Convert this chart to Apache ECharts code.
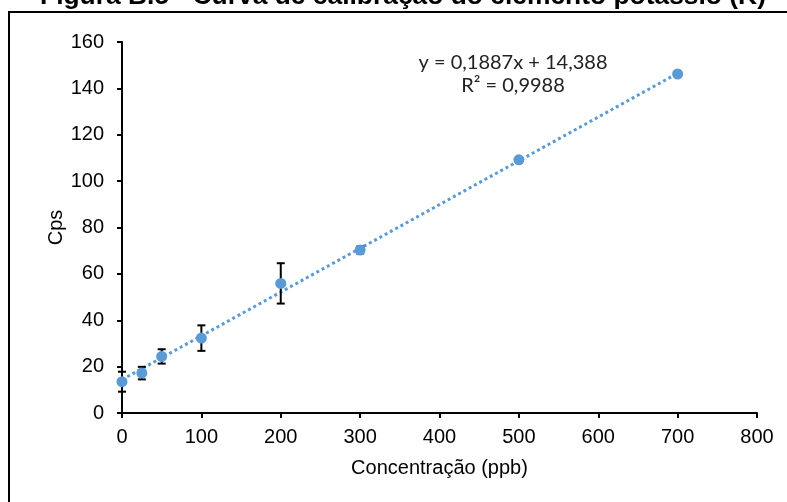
<!DOCTYPE html>
<html>
<head>
<meta charset="utf-8">
<script src="https://cdn.jsdelivr.net/npm/echarts@6/dist/echarts.min.js"></script>
<style>
  html,body{margin:0;padding:0;background:#fff;}
  #chart{width:787px;height:502px;}
</style>
</head>
<body>
<div id="chart"></div>
<script>
  // Curva de calibração - potássio (K)
  const concX = [0, 25, 50, 100, 200, 300, 500, 700];
  const cpsY  = [13.5, 17.2, 24.4, 32.3, 55.9, 70.3, 109.2, 146.2];
  const errY  = [4.3, 2.7, 3.1, 5.5, 8.7, 1.5, 0.8, 0.8];
  const trendX = [0, 700];
  const trendY = [14.4, 146.5];
  const xTicks = [0, 100, 200, 300, 400, 500, 600, 700, 800];
  const yTicks = [0, 20, 40, 60, 80, 100, 120, 140, 160];

  const pts = concX.map((x,i)=>[x, cpsY[i]]);
  const errs = concX.map((x,i)=>[x, cpsY[i]-errY[i], cpsY[i]+errY[i]]);
  const trend = trendX.map((x,i)=>[x, trendY[i]]);

  const chart = echarts.init(document.getElementById('chart'));
  const axisTxt = {color:'#000', fontFamily:'"Liberation Sans", Arial', fontSize:20};

  chart.setOption({
    animation:false,
    grid:{left:122, right:30, top:42, bottom:89},
    xAxis:{
      type:'value', min:xTicks[0], max:xTicks[xTicks.length-1], interval:100,
      name:'Concentração (ppb)', nameLocation:'middle', nameGap:45,
      nameTextStyle:axisTxt,
      axisLine:{lineStyle:{color:'#000', width:2}},
      axisTick:{show:true, length:5, lineStyle:{color:'#000', width:2}},
      axisLabel:Object.assign({margin:14}, axisTxt),
      splitLine:{show:false}
    },
    yAxis:{
      type:'value', min:yTicks[0], max:yTicks[yTicks.length-1], interval:20,
      name:'Cps', nameLocation:'middle', nameGap:56, nameRotate:90,
      nameMoveOverlap:false,
      nameTextStyle:axisTxt,
      axisLine:{show:true, lineStyle:{color:'#000', width:2}},
      axisTick:{show:true, length:5, lineStyle:{color:'#000', width:2}},
      axisLabel:Object.assign({margin:18}, axisTxt),
      splitLine:{show:false}
    },
    graphic:[
      {type:'rect', shape:{x:9, y:12, width:820, height:520},
       style:{fill:null, stroke:'#000', lineWidth:2}, z:-1},
      {type:'text', x:403, y:10,
       style:{text:'Figura B.5 - Curva de calibração do elemento potássio (K)',
              font:'bold 26.4px "Liberation Sans", Arial', fill:'#000',
              align:'center', verticalAlign:'bottom'}},
      {type:'text', x:513, y:63,
       style:{text:'y = 0,1887x + 14,388', font:'20px Lato, "Open Sans"', fill:'#222',
              align:'center', verticalAlign:'middle'}},
      {type:'text', x:513, y:86,
       style:{text:'R² = 0,9988', font:'20px Lato, "Open Sans"', fill:'#222',
              align:'center', verticalAlign:'middle'}}
    ],
    series:[
      {
        type:'line', data:trend, showSymbol:false, silent:true, z:2,
        lineStyle:{color:'#5B9BD5', width:3, type:'dotted'}
      },
      {
        type:'custom', data:errs, z:3,
        renderItem:function(params, api){
          const lo = api.coord([api.value(0), api.value(1)]);
          const hi = api.coord([api.value(0), api.value(2)]);
          const c = 4;
          const st = {stroke:'#000', lineWidth:2};
          return {type:'group', children:[
            {type:'line', shape:{x1:lo[0], y1:lo[1], x2:hi[0], y2:hi[1]}, style:st},
            {type:'line', shape:{x1:lo[0]-c, y1:lo[1], x2:lo[0]+c, y2:lo[1]}, style:st},
            {type:'line', shape:{x1:hi[0]-c, y1:hi[1], x2:hi[0]+c, y2:hi[1]}, style:st}
          ]};
        }
      },
      {
        type:'scatter', data:pts, symbol:'circle', symbolSize:11, z:4,
        itemStyle:{color:'#5B9BD5', opacity:1}
      }
    ]
  });
</script>
</body>
</html>
